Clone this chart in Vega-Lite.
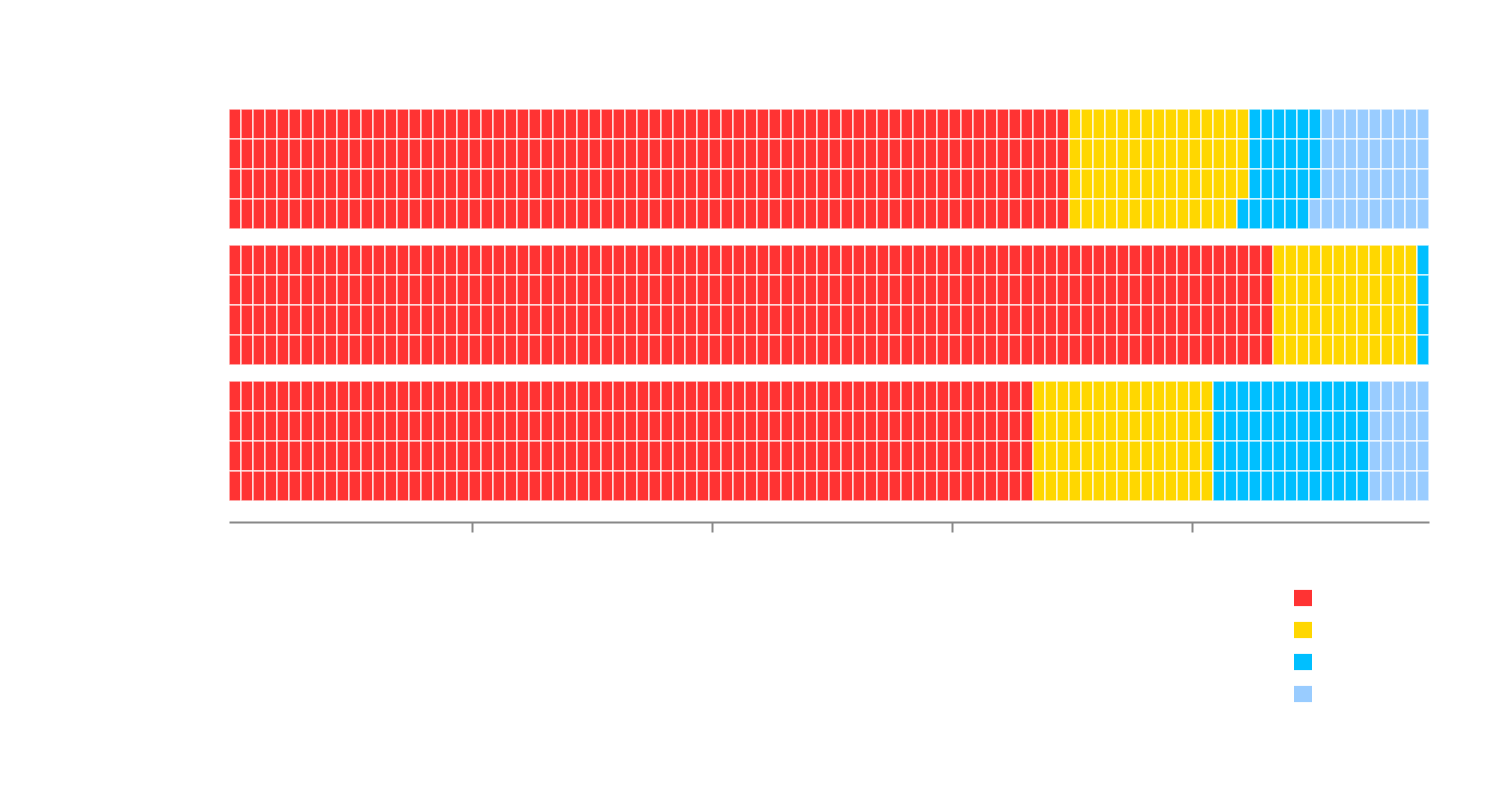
{
"$schema": "https://vega.github.io/schema/vega-lite/v6.json",
"background": "white",
"padding": {"left": 228, "top": 108, "right": 40, "bottom": 10},
"autosize": {"type": "pad"},
"data": {"values": [
{"g":1,"c":1,"r1":"A","r2":"A","r3":"A","r4":"A"},{"g":1,"c":2,"r1":"A","r2":"A","r3":"A","r4":"A"},{"g":1,"c":3,"r1":"A","r2":"A","r3":"A","r4":"A"},{"g":1,"c":4,"r1":"A","r2":"A","r3":"A","r4":"A"},{"g":1,"c":5,"r1":"A","r2":"A","r3":"A","r4":"A"},
{"g":1,"c":6,"r1":"A","r2":"A","r3":"A","r4":"A"},{"g":1,"c":7,"r1":"A","r2":"A","r3":"A","r4":"A"},{"g":1,"c":8,"r1":"A","r2":"A","r3":"A","r4":"A"},{"g":1,"c":9,"r1":"A","r2":"A","r3":"A","r4":"A"},{"g":1,"c":10,"r1":"A","r2":"A","r3":"A","r4":"A"},
{"g":1,"c":11,"r1":"A","r2":"A","r3":"A","r4":"A"},{"g":1,"c":12,"r1":"A","r2":"A","r3":"A","r4":"A"},{"g":1,"c":13,"r1":"A","r2":"A","r3":"A","r4":"A"},{"g":1,"c":14,"r1":"A","r2":"A","r3":"A","r4":"A"},{"g":1,"c":15,"r1":"A","r2":"A","r3":"A","r4":"A"},
{"g":1,"c":16,"r1":"A","r2":"A","r3":"A","r4":"A"},{"g":1,"c":17,"r1":"A","r2":"A","r3":"A","r4":"A"},{"g":1,"c":18,"r1":"A","r2":"A","r3":"A","r4":"A"},{"g":1,"c":19,"r1":"A","r2":"A","r3":"A","r4":"A"},{"g":1,"c":20,"r1":"A","r2":"A","r3":"A","r4":"A"},
{"g":1,"c":21,"r1":"A","r2":"A","r3":"A","r4":"A"},{"g":1,"c":22,"r1":"A","r2":"A","r3":"A","r4":"A"},{"g":1,"c":23,"r1":"A","r2":"A","r3":"A","r4":"A"},{"g":1,"c":24,"r1":"A","r2":"A","r3":"A","r4":"A"},{"g":1,"c":25,"r1":"A","r2":"A","r3":"A","r4":"A"},
{"g":1,"c":26,"r1":"A","r2":"A","r3":"A","r4":"A"},{"g":1,"c":27,"r1":"A","r2":"A","r3":"A","r4":"A"},{"g":1,"c":28,"r1":"A","r2":"A","r3":"A","r4":"A"},{"g":1,"c":29,"r1":"A","r2":"A","r3":"A","r4":"A"},{"g":1,"c":30,"r1":"A","r2":"A","r3":"A","r4":"A"},
{"g":1,"c":31,"r1":"A","r2":"A","r3":"A","r4":"A"},{"g":1,"c":32,"r1":"A","r2":"A","r3":"A","r4":"A"},{"g":1,"c":33,"r1":"A","r2":"A","r3":"A","r4":"A"},{"g":1,"c":34,"r1":"A","r2":"A","r3":"A","r4":"A"},{"g":1,"c":35,"r1":"A","r2":"A","r3":"A","r4":"A"},
{"g":1,"c":36,"r1":"A","r2":"A","r3":"A","r4":"A"},{"g":1,"c":37,"r1":"A","r2":"A","r3":"A","r4":"A"},{"g":1,"c":38,"r1":"A","r2":"A","r3":"A","r4":"A"},{"g":1,"c":39,"r1":"A","r2":"A","r3":"A","r4":"A"},{"g":1,"c":40,"r1":"A","r2":"A","r3":"A","r4":"A"},
{"g":1,"c":41,"r1":"A","r2":"A","r3":"A","r4":"A"},{"g":1,"c":42,"r1":"A","r2":"A","r3":"A","r4":"A"},{"g":1,"c":43,"r1":"A","r2":"A","r3":"A","r4":"A"},{"g":1,"c":44,"r1":"A","r2":"A","r3":"A","r4":"A"},{"g":1,"c":45,"r1":"A","r2":"A","r3":"A","r4":"A"},
{"g":1,"c":46,"r1":"A","r2":"A","r3":"A","r4":"A"},{"g":1,"c":47,"r1":"A","r2":"A","r3":"A","r4":"A"},{"g":1,"c":48,"r1":"A","r2":"A","r3":"A","r4":"A"},{"g":1,"c":49,"r1":"A","r2":"A","r3":"A","r4":"A"},{"g":1,"c":50,"r1":"A","r2":"A","r3":"A","r4":"A"},
{"g":1,"c":51,"r1":"A","r2":"A","r3":"A","r4":"A"},{"g":1,"c":52,"r1":"A","r2":"A","r3":"A","r4":"A"},{"g":1,"c":53,"r1":"A","r2":"A","r3":"A","r4":"A"},{"g":1,"c":54,"r1":"A","r2":"A","r3":"A","r4":"A"},{"g":1,"c":55,"r1":"A","r2":"A","r3":"A","r4":"A"},
{"g":1,"c":56,"r1":"A","r2":"A","r3":"A","r4":"A"},{"g":1,"c":57,"r1":"A","r2":"A","r3":"A","r4":"A"},{"g":1,"c":58,"r1":"A","r2":"A","r3":"A","r4":"A"},{"g":1,"c":59,"r1":"A","r2":"A","r3":"A","r4":"A"},{"g":1,"c":60,"r1":"A","r2":"A","r3":"A","r4":"A"},
{"g":1,"c":61,"r1":"A","r2":"A","r3":"A","r4":"A"},{"g":1,"c":62,"r1":"A","r2":"A","r3":"A","r4":"A"},{"g":1,"c":63,"r1":"A","r2":"A","r3":"A","r4":"A"},{"g":1,"c":64,"r1":"A","r2":"A","r3":"A","r4":"A"},{"g":1,"c":65,"r1":"A","r2":"A","r3":"A","r4":"A"},
{"g":1,"c":66,"r1":"A","r2":"A","r3":"A","r4":"A"},{"g":1,"c":67,"r1":"A","r2":"A","r3":"A","r4":"A"},{"g":1,"c":68,"r1":"A","r2":"A","r3":"A","r4":"A"},{"g":1,"c":69,"r1":"A","r2":"A","r3":"A","r4":"A"},{"g":1,"c":70,"r1":"A","r2":"A","r3":"A","r4":"A"},
{"g":1,"c":71,"r1":"B","r2":"B","r3":"B","r4":"B"},{"g":1,"c":72,"r1":"B","r2":"B","r3":"B","r4":"B"},{"g":1,"c":73,"r1":"B","r2":"B","r3":"B","r4":"B"},{"g":1,"c":74,"r1":"B","r2":"B","r3":"B","r4":"B"},{"g":1,"c":75,"r1":"B","r2":"B","r3":"B","r4":"B"},
{"g":1,"c":76,"r1":"B","r2":"B","r3":"B","r4":"B"},{"g":1,"c":77,"r1":"B","r2":"B","r3":"B","r4":"B"},{"g":1,"c":78,"r1":"B","r2":"B","r3":"B","r4":"B"},{"g":1,"c":79,"r1":"B","r2":"B","r3":"B","r4":"B"},{"g":1,"c":80,"r1":"B","r2":"B","r3":"B","r4":"B"},
{"g":1,"c":81,"r1":"B","r2":"B","r3":"B","r4":"B"},{"g":1,"c":82,"r1":"B","r2":"B","r3":"B","r4":"B"},{"g":1,"c":83,"r1":"B","r2":"B","r3":"B","r4":"B"},{"g":1,"c":84,"r1":"B","r2":"B","r3":"B","r4":"B"},{"g":1,"c":85,"r1":"B","r2":"B","r3":"B","r4":"C"},
{"g":1,"c":86,"r1":"C","r2":"C","r3":"C","r4":"C"},{"g":1,"c":87,"r1":"C","r2":"C","r3":"C","r4":"C"},{"g":1,"c":88,"r1":"C","r2":"C","r3":"C","r4":"C"},{"g":1,"c":89,"r1":"C","r2":"C","r3":"C","r4":"C"},{"g":1,"c":90,"r1":"C","r2":"C","r3":"C","r4":"C"},
{"g":1,"c":91,"r1":"C","r2":"C","r3":"C","r4":"D"},{"g":1,"c":92,"r1":"D","r2":"D","r3":"D","r4":"D"},{"g":1,"c":93,"r1":"D","r2":"D","r3":"D","r4":"D"},{"g":1,"c":94,"r1":"D","r2":"D","r3":"D","r4":"D"},{"g":1,"c":95,"r1":"D","r2":"D","r3":"D","r4":"D"},
{"g":1,"c":96,"r1":"D","r2":"D","r3":"D","r4":"D"},{"g":1,"c":97,"r1":"D","r2":"D","r3":"D","r4":"D"},{"g":1,"c":98,"r1":"D","r2":"D","r3":"D","r4":"D"},{"g":1,"c":99,"r1":"D","r2":"D","r3":"D","r4":"D"},{"g":1,"c":100,"r1":"D","r2":"D","r3":"D","r4":"D"},
{"g":2,"c":1,"r1":"A","r2":"A","r3":"A","r4":"A"},{"g":2,"c":2,"r1":"A","r2":"A","r3":"A","r4":"A"},{"g":2,"c":3,"r1":"A","r2":"A","r3":"A","r4":"A"},{"g":2,"c":4,"r1":"A","r2":"A","r3":"A","r4":"A"},{"g":2,"c":5,"r1":"A","r2":"A","r3":"A","r4":"A"},
{"g":2,"c":6,"r1":"A","r2":"A","r3":"A","r4":"A"},{"g":2,"c":7,"r1":"A","r2":"A","r3":"A","r4":"A"},{"g":2,"c":8,"r1":"A","r2":"A","r3":"A","r4":"A"},{"g":2,"c":9,"r1":"A","r2":"A","r3":"A","r4":"A"},{"g":2,"c":10,"r1":"A","r2":"A","r3":"A","r4":"A"},
{"g":2,"c":11,"r1":"A","r2":"A","r3":"A","r4":"A"},{"g":2,"c":12,"r1":"A","r2":"A","r3":"A","r4":"A"},{"g":2,"c":13,"r1":"A","r2":"A","r3":"A","r4":"A"},{"g":2,"c":14,"r1":"A","r2":"A","r3":"A","r4":"A"},{"g":2,"c":15,"r1":"A","r2":"A","r3":"A","r4":"A"},
{"g":2,"c":16,"r1":"A","r2":"A","r3":"A","r4":"A"},{"g":2,"c":17,"r1":"A","r2":"A","r3":"A","r4":"A"},{"g":2,"c":18,"r1":"A","r2":"A","r3":"A","r4":"A"},{"g":2,"c":19,"r1":"A","r2":"A","r3":"A","r4":"A"},{"g":2,"c":20,"r1":"A","r2":"A","r3":"A","r4":"A"},
{"g":2,"c":21,"r1":"A","r2":"A","r3":"A","r4":"A"},{"g":2,"c":22,"r1":"A","r2":"A","r3":"A","r4":"A"},{"g":2,"c":23,"r1":"A","r2":"A","r3":"A","r4":"A"},{"g":2,"c":24,"r1":"A","r2":"A","r3":"A","r4":"A"},{"g":2,"c":25,"r1":"A","r2":"A","r3":"A","r4":"A"},
{"g":2,"c":26,"r1":"A","r2":"A","r3":"A","r4":"A"},{"g":2,"c":27,"r1":"A","r2":"A","r3":"A","r4":"A"},{"g":2,"c":28,"r1":"A","r2":"A","r3":"A","r4":"A"},{"g":2,"c":29,"r1":"A","r2":"A","r3":"A","r4":"A"},{"g":2,"c":30,"r1":"A","r2":"A","r3":"A","r4":"A"},
{"g":2,"c":31,"r1":"A","r2":"A","r3":"A","r4":"A"},{"g":2,"c":32,"r1":"A","r2":"A","r3":"A","r4":"A"},{"g":2,"c":33,"r1":"A","r2":"A","r3":"A","r4":"A"},{"g":2,"c":34,"r1":"A","r2":"A","r3":"A","r4":"A"},{"g":2,"c":35,"r1":"A","r2":"A","r3":"A","r4":"A"},
{"g":2,"c":36,"r1":"A","r2":"A","r3":"A","r4":"A"},{"g":2,"c":37,"r1":"A","r2":"A","r3":"A","r4":"A"},{"g":2,"c":38,"r1":"A","r2":"A","r3":"A","r4":"A"},{"g":2,"c":39,"r1":"A","r2":"A","r3":"A","r4":"A"},{"g":2,"c":40,"r1":"A","r2":"A","r3":"A","r4":"A"},
{"g":2,"c":41,"r1":"A","r2":"A","r3":"A","r4":"A"},{"g":2,"c":42,"r1":"A","r2":"A","r3":"A","r4":"A"},{"g":2,"c":43,"r1":"A","r2":"A","r3":"A","r4":"A"},{"g":2,"c":44,"r1":"A","r2":"A","r3":"A","r4":"A"},{"g":2,"c":45,"r1":"A","r2":"A","r3":"A","r4":"A"},
{"g":2,"c":46,"r1":"A","r2":"A","r3":"A","r4":"A"},{"g":2,"c":47,"r1":"A","r2":"A","r3":"A","r4":"A"},{"g":2,"c":48,"r1":"A","r2":"A","r3":"A","r4":"A"},{"g":2,"c":49,"r1":"A","r2":"A","r3":"A","r4":"A"},{"g":2,"c":50,"r1":"A","r2":"A","r3":"A","r4":"A"},
{"g":2,"c":51,"r1":"A","r2":"A","r3":"A","r4":"A"},{"g":2,"c":52,"r1":"A","r2":"A","r3":"A","r4":"A"},{"g":2,"c":53,"r1":"A","r2":"A","r3":"A","r4":"A"},{"g":2,"c":54,"r1":"A","r2":"A","r3":"A","r4":"A"},{"g":2,"c":55,"r1":"A","r2":"A","r3":"A","r4":"A"},
{"g":2,"c":56,"r1":"A","r2":"A","r3":"A","r4":"A"},{"g":2,"c":57,"r1":"A","r2":"A","r3":"A","r4":"A"},{"g":2,"c":58,"r1":"A","r2":"A","r3":"A","r4":"A"},{"g":2,"c":59,"r1":"A","r2":"A","r3":"A","r4":"A"},{"g":2,"c":60,"r1":"A","r2":"A","r3":"A","r4":"A"},
{"g":2,"c":61,"r1":"A","r2":"A","r3":"A","r4":"A"},{"g":2,"c":62,"r1":"A","r2":"A","r3":"A","r4":"A"},{"g":2,"c":63,"r1":"A","r2":"A","r3":"A","r4":"A"},{"g":2,"c":64,"r1":"A","r2":"A","r3":"A","r4":"A"},{"g":2,"c":65,"r1":"A","r2":"A","r3":"A","r4":"A"},
{"g":2,"c":66,"r1":"A","r2":"A","r3":"A","r4":"A"},{"g":2,"c":67,"r1":"A","r2":"A","r3":"A","r4":"A"},{"g":2,"c":68,"r1":"A","r2":"A","r3":"A","r4":"A"},{"g":2,"c":69,"r1":"A","r2":"A","r3":"A","r4":"A"},{"g":2,"c":70,"r1":"A","r2":"A","r3":"A","r4":"A"},
{"g":2,"c":71,"r1":"A","r2":"A","r3":"A","r4":"A"},{"g":2,"c":72,"r1":"A","r2":"A","r3":"A","r4":"A"},{"g":2,"c":73,"r1":"A","r2":"A","r3":"A","r4":"A"},{"g":2,"c":74,"r1":"A","r2":"A","r3":"A","r4":"A"},{"g":2,"c":75,"r1":"A","r2":"A","r3":"A","r4":"A"},
{"g":2,"c":76,"r1":"A","r2":"A","r3":"A","r4":"A"},{"g":2,"c":77,"r1":"A","r2":"A","r3":"A","r4":"A"},{"g":2,"c":78,"r1":"A","r2":"A","r3":"A","r4":"A"},{"g":2,"c":79,"r1":"A","r2":"A","r3":"A","r4":"A"},{"g":2,"c":80,"r1":"A","r2":"A","r3":"A","r4":"A"},
{"g":2,"c":81,"r1":"A","r2":"A","r3":"A","r4":"A"},{"g":2,"c":82,"r1":"A","r2":"A","r3":"A","r4":"A"},{"g":2,"c":83,"r1":"A","r2":"A","r3":"A","r4":"A"},{"g":2,"c":84,"r1":"A","r2":"A","r3":"A","r4":"A"},{"g":2,"c":85,"r1":"A","r2":"A","r3":"A","r4":"A"},
{"g":2,"c":86,"r1":"A","r2":"A","r3":"A","r4":"A"},{"g":2,"c":87,"r1":"A","r2":"A","r3":"A","r4":"A"},{"g":2,"c":88,"r1":"B","r2":"B","r3":"B","r4":"B"},{"g":2,"c":89,"r1":"B","r2":"B","r3":"B","r4":"B"},{"g":2,"c":90,"r1":"B","r2":"B","r3":"B","r4":"B"},
{"g":2,"c":91,"r1":"B","r2":"B","r3":"B","r4":"B"},{"g":2,"c":92,"r1":"B","r2":"B","r3":"B","r4":"B"},{"g":2,"c":93,"r1":"B","r2":"B","r3":"B","r4":"B"},{"g":2,"c":94,"r1":"B","r2":"B","r3":"B","r4":"B"},{"g":2,"c":95,"r1":"B","r2":"B","r3":"B","r4":"B"},
{"g":2,"c":96,"r1":"B","r2":"B","r3":"B","r4":"B"},{"g":2,"c":97,"r1":"B","r2":"B","r3":"B","r4":"B"},{"g":2,"c":98,"r1":"B","r2":"B","r3":"B","r4":"B"},{"g":2,"c":99,"r1":"B","r2":"B","r3":"B","r4":"B"},{"g":2,"c":100,"r1":"C","r2":"C","r3":"C","r4":"C"},
{"g":3,"c":1,"r1":"A","r2":"A","r3":"A","r4":"A"},{"g":3,"c":2,"r1":"A","r2":"A","r3":"A","r4":"A"},{"g":3,"c":3,"r1":"A","r2":"A","r3":"A","r4":"A"},{"g":3,"c":4,"r1":"A","r2":"A","r3":"A","r4":"A"},{"g":3,"c":5,"r1":"A","r2":"A","r3":"A","r4":"A"},
{"g":3,"c":6,"r1":"A","r2":"A","r3":"A","r4":"A"},{"g":3,"c":7,"r1":"A","r2":"A","r3":"A","r4":"A"},{"g":3,"c":8,"r1":"A","r2":"A","r3":"A","r4":"A"},{"g":3,"c":9,"r1":"A","r2":"A","r3":"A","r4":"A"},{"g":3,"c":10,"r1":"A","r2":"A","r3":"A","r4":"A"},
{"g":3,"c":11,"r1":"A","r2":"A","r3":"A","r4":"A"},{"g":3,"c":12,"r1":"A","r2":"A","r3":"A","r4":"A"},{"g":3,"c":13,"r1":"A","r2":"A","r3":"A","r4":"A"},{"g":3,"c":14,"r1":"A","r2":"A","r3":"A","r4":"A"},{"g":3,"c":15,"r1":"A","r2":"A","r3":"A","r4":"A"},
{"g":3,"c":16,"r1":"A","r2":"A","r3":"A","r4":"A"},{"g":3,"c":17,"r1":"A","r2":"A","r3":"A","r4":"A"},{"g":3,"c":18,"r1":"A","r2":"A","r3":"A","r4":"A"},{"g":3,"c":19,"r1":"A","r2":"A","r3":"A","r4":"A"},{"g":3,"c":20,"r1":"A","r2":"A","r3":"A","r4":"A"},
{"g":3,"c":21,"r1":"A","r2":"A","r3":"A","r4":"A"},{"g":3,"c":22,"r1":"A","r2":"A","r3":"A","r4":"A"},{"g":3,"c":23,"r1":"A","r2":"A","r3":"A","r4":"A"},{"g":3,"c":24,"r1":"A","r2":"A","r3":"A","r4":"A"},{"g":3,"c":25,"r1":"A","r2":"A","r3":"A","r4":"A"},
{"g":3,"c":26,"r1":"A","r2":"A","r3":"A","r4":"A"},{"g":3,"c":27,"r1":"A","r2":"A","r3":"A","r4":"A"},{"g":3,"c":28,"r1":"A","r2":"A","r3":"A","r4":"A"},{"g":3,"c":29,"r1":"A","r2":"A","r3":"A","r4":"A"},{"g":3,"c":30,"r1":"A","r2":"A","r3":"A","r4":"A"},
{"g":3,"c":31,"r1":"A","r2":"A","r3":"A","r4":"A"},{"g":3,"c":32,"r1":"A","r2":"A","r3":"A","r4":"A"},{"g":3,"c":33,"r1":"A","r2":"A","r3":"A","r4":"A"},{"g":3,"c":34,"r1":"A","r2":"A","r3":"A","r4":"A"},{"g":3,"c":35,"r1":"A","r2":"A","r3":"A","r4":"A"},
{"g":3,"c":36,"r1":"A","r2":"A","r3":"A","r4":"A"},{"g":3,"c":37,"r1":"A","r2":"A","r3":"A","r4":"A"},{"g":3,"c":38,"r1":"A","r2":"A","r3":"A","r4":"A"},{"g":3,"c":39,"r1":"A","r2":"A","r3":"A","r4":"A"},{"g":3,"c":40,"r1":"A","r2":"A","r3":"A","r4":"A"},
{"g":3,"c":41,"r1":"A","r2":"A","r3":"A","r4":"A"},{"g":3,"c":42,"r1":"A","r2":"A","r3":"A","r4":"A"},{"g":3,"c":43,"r1":"A","r2":"A","r3":"A","r4":"A"},{"g":3,"c":44,"r1":"A","r2":"A","r3":"A","r4":"A"},{"g":3,"c":45,"r1":"A","r2":"A","r3":"A","r4":"A"},
{"g":3,"c":46,"r1":"A","r2":"A","r3":"A","r4":"A"},{"g":3,"c":47,"r1":"A","r2":"A","r3":"A","r4":"A"},{"g":3,"c":48,"r1":"A","r2":"A","r3":"A","r4":"A"},{"g":3,"c":49,"r1":"A","r2":"A","r3":"A","r4":"A"},{"g":3,"c":50,"r1":"A","r2":"A","r3":"A","r4":"A"},
{"g":3,"c":51,"r1":"A","r2":"A","r3":"A","r4":"A"},{"g":3,"c":52,"r1":"A","r2":"A","r3":"A","r4":"A"},{"g":3,"c":53,"r1":"A","r2":"A","r3":"A","r4":"A"},{"g":3,"c":54,"r1":"A","r2":"A","r3":"A","r4":"A"},{"g":3,"c":55,"r1":"A","r2":"A","r3":"A","r4":"A"},
{"g":3,"c":56,"r1":"A","r2":"A","r3":"A","r4":"A"},{"g":3,"c":57,"r1":"A","r2":"A","r3":"A","r4":"A"},{"g":3,"c":58,"r1":"A","r2":"A","r3":"A","r4":"A"},{"g":3,"c":59,"r1":"A","r2":"A","r3":"A","r4":"A"},{"g":3,"c":60,"r1":"A","r2":"A","r3":"A","r4":"A"},
{"g":3,"c":61,"r1":"A","r2":"A","r3":"A","r4":"A"},{"g":3,"c":62,"r1":"A","r2":"A","r3":"A","r4":"A"},{"g":3,"c":63,"r1":"A","r2":"A","r3":"A","r4":"A"},{"g":3,"c":64,"r1":"A","r2":"A","r3":"A","r4":"A"},{"g":3,"c":65,"r1":"A","r2":"A","r3":"A","r4":"A"},
{"g":3,"c":66,"r1":"A","r2":"A","r3":"A","r4":"A"},{"g":3,"c":67,"r1":"A","r2":"A","r3":"A","r4":"A"},{"g":3,"c":68,"r1":"B","r2":"B","r3":"B","r4":"B"},{"g":3,"c":69,"r1":"B","r2":"B","r3":"B","r4":"B"},{"g":3,"c":70,"r1":"B","r2":"B","r3":"B","r4":"B"},
{"g":3,"c":71,"r1":"B","r2":"B","r3":"B","r4":"B"},{"g":3,"c":72,"r1":"B","r2":"B","r3":"B","r4":"B"},{"g":3,"c":73,"r1":"B","r2":"B","r3":"B","r4":"B"},{"g":3,"c":74,"r1":"B","r2":"B","r3":"B","r4":"B"},{"g":3,"c":75,"r1":"B","r2":"B","r3":"B","r4":"B"},
{"g":3,"c":76,"r1":"B","r2":"B","r3":"B","r4":"B"},{"g":3,"c":77,"r1":"B","r2":"B","r3":"B","r4":"B"},{"g":3,"c":78,"r1":"B","r2":"B","r3":"B","r4":"B"},{"g":3,"c":79,"r1":"B","r2":"B","r3":"B","r4":"B"},{"g":3,"c":80,"r1":"B","r2":"B","r3":"B","r4":"B"},
{"g":3,"c":81,"r1":"B","r2":"B","r3":"B","r4":"B"},{"g":3,"c":82,"r1":"B","r2":"B","r3":"B","r4":"B"},{"g":3,"c":83,"r1":"C","r2":"C","r3":"C","r4":"C"},{"g":3,"c":84,"r1":"C","r2":"C","r3":"C","r4":"C"},{"g":3,"c":85,"r1":"C","r2":"C","r3":"C","r4":"C"},
{"g":3,"c":86,"r1":"C","r2":"C","r3":"C","r4":"C"},{"g":3,"c":87,"r1":"C","r2":"C","r3":"C","r4":"C"},{"g":3,"c":88,"r1":"C","r2":"C","r3":"C","r4":"C"},{"g":3,"c":89,"r1":"C","r2":"C","r3":"C","r4":"C"},{"g":3,"c":90,"r1":"C","r2":"C","r3":"C","r4":"C"},
{"g":3,"c":91,"r1":"C","r2":"C","r3":"C","r4":"C"},{"g":3,"c":92,"r1":"C","r2":"C","r3":"C","r4":"C"},{"g":3,"c":93,"r1":"C","r2":"C","r3":"C","r4":"C"},{"g":3,"c":94,"r1":"C","r2":"C","r3":"C","r4":"C"},{"g":3,"c":95,"r1":"C","r2":"C","r3":"C","r4":"C"},
{"g":3,"c":96,"r1":"D","r2":"D","r3":"D","r4":"D"},{"g":3,"c":97,"r1":"D","r2":"D","r3":"D","r4":"D"},{"g":3,"c":98,"r1":"D","r2":"D","r3":"D","r4":"D"},{"g":3,"c":99,"r1":"D","r2":"D","r3":"D","r4":"D"},{"g":3,"c":100,"r1":"D","r2":"D","r3":"D","r4":"D"}
]},
"transform": [{"fold": ["r1", "r2", "r3", "r4"], "as": ["row", "cat"]}],
"facet": {"row": {"field": "g", "type": "ordinal", "header": null}},
"spacing": 14,
"spec": {
  "width": 1200,
  "height": 120,
  "mark": {"type": "rect", "stroke": "white", "strokeWidth": 1.5, "strokeOpacity": 0.75},
  "encoding": {
    "x": {"field": "c", "type": "ordinal", "scale": {"paddingInner": 0, "paddingOuter": 0},
      "axis": {"values": [21, 41, 61, 81], "bandPosition": 0.25, "labels": false, "title": null, "domainColor": "#888888", "domainWidth": 2, "tickColor": "#888888", "tickWidth": 2, "tickSize": 10, "offset": 20, "grid": false}},
    "y": {"field": "row", "type": "ordinal", "scale": {"paddingInner": 0, "paddingOuter": 0}, "axis": null},
    "color": {"field": "cat", "type": "nominal",
      "scale": {"domain": ["A", "B", "C", "D"], "range": ["#FF3333", "#FFD700", "#00BFFF", "#99CCFF"]},
      "legend": {"orient": "none", "legendX": 1065, "legendY": 480, "title": null, "labelExpr": "''", "symbolType": "M-1,-0.9H1V0.9H-1Z", "symbolSize": 324, "symbolStrokeWidth": 0, "rowPadding": 14, "padding": 0, "labelFontSize": 11}}
  }
},
"config": {"view": {"stroke": null}}
}
